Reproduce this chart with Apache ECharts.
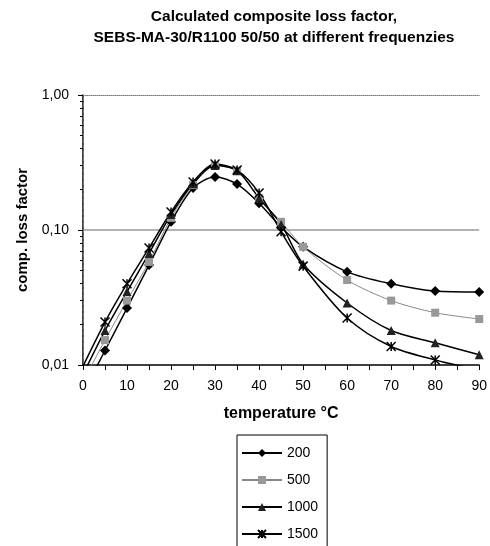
<!DOCTYPE html>
<html>
<head>
<meta charset="utf-8">
<script src="https://cdn.jsdelivr.net/npm/echarts@6/dist/echarts.min.js"></script>
<style>
  html, body { margin: 0; padding: 0; background: #fff; }
  #root { width: 490px; height: 546px; }
</style>
</head>
<body>
<div id="root"></div>
<script>
var temps = [0, 5, 10, 15, 20, 25, 30, 35, 40, 45, 50, 60, 70, 80, 90]
var f200 = [0.0062, 0.0128, 0.0264, 0.055, 0.115, 0.205, 0.247, 0.219, 0.158, 0.105, 0.075, 0.049, 0.040, 0.0353, 0.0347]
var f500 = [0.0075, 0.0153, 0.030, 0.058, 0.123, 0.215, 0.300, 0.275, 0.172, 0.115, 0.075, 0.0426, 0.030, 0.0244, 0.0219]
var f1000 = [0.0085, 0.018, 0.035, 0.067, 0.130, 0.220, 0.300, 0.275, 0.172, 0.110, 0.056, 0.0288, 0.018, 0.0146, 0.0119]
var f1500 = [0.0098, 0.0208, 0.040, 0.0736, 0.136, 0.227, 0.308, 0.278, 0.188, 0.097, 0.054, 0.0223, 0.0137, 0.0109, 0.0092]

var font = 'Liberation Sans, Arial, sans-serif'
var star = 'path://M0,0L10,10M10,0L0,10M5,0L5,10'

var pairs = function (ys) {
  return temps.map(function (t, i) { return [t, ys[i]] })
}

var line = function (name, ys, symbol, size, color, fill, width) {
  return {
    name: name,
    type: 'line',
    data: pairs(ys),
    smooth: 0.3,
    symbol: symbol,
    symbolSize: size,
    showAllSymbol: true,
    lineStyle: { color: color, width: width },
    itemStyle: { color: fill, borderColor: symbol === star ? '#000' : fill, borderWidth: symbol === star ? 1.5 : 0 },
    emphasis: { disabled: true }
  }
}

var chart = echarts.init(document.getElementById('root'))

var option = {
  animation: false,
  textStyle: { fontFamily: font },
  title: {
    text: 'Calculated composite loss factor,\nSEBS-MA-30/R1100 50/50 at different frequenzies',
    left: 274,
    top: 6,
    padding: 0,
    textAlign: 'center',
    textStyle: { fontFamily: font, fontSize: 15.5, fontWeight: 'bold', lineHeight: 21, color: '#000' }
  },
  grid: { left: 83, right: 10, top: 95, bottom: 181 },
  legend: {
    orient: 'vertical',
    left: 237,
    top: 435,
    height: 140,
    padding: [11, 9, 13, 4],
    itemGap: 13,
    itemWidth: 40,
    itemHeight: 10,
    borderColor: '#000',
    borderWidth: 1,
    textStyle: { fontFamily: font, fontSize: 14, color: '#000' },
    data: ['200', '500', '1000', '1500']
  },
  xAxis: [{
    type: 'value',
    min: 0,
    max: 90,
    interval: 10,
    name: 'temperature °C',
    nameLocation: 'middle',
    nameGap: 41,
    nameTextStyle: { fontFamily: font, fontSize: 16, fontWeight: 'bold', color: '#000' },
    axisLine: { show: true, onZero: false, lineStyle: { color: '#000', width: 1.5 } },
    axisTick: { show: true, length: 5, lineStyle: { color: '#000' } },
    minorTick: { show: true, splitNumber: 2, length: 5, lineStyle: { color: '#000' } },
    axisLabel: { fontFamily: font, fontSize: 14, color: '#000', margin: 14 },
    splitLine: { show: false }
  }, {
    type: 'value',
    position: 'top',
    min: 0,
    max: 90,
    axisLine: { show: true, onZero: false, lineStyle: { color: '#777', type: 'dotted', width: 1 } },
    axisTick: { show: false },
    axisLabel: { show: false },
    splitLine: { show: false }
  }],
  yAxis: [{
    type: 'log',
    logBase: 10,
    min: 0.01,
    max: 1,
    name: 'comp. loss factor',
    nameLocation: 'middle',
    nameRotate: 90,
    nameGap: 51,
    nameTextStyle: { fontFamily: font, fontSize: 15, fontWeight: 'bold', color: '#000' },
    axisLine: { show: true, lineStyle: { color: '#000', width: 1.5 } },
    axisTick: { show: true, length: 5, lineStyle: { color: '#000' } },
    minorTick: { show: true, splitNumber: 9, length: 3, lineStyle: { color: '#000' } },
    axisLabel: {
      fontFamily: font, fontSize: 14, color: '#000', margin: 14,
      formatter: function (v) { return v.toFixed(2).replace('.', ',') }
    },
    splitLine: { show: true, lineStyle: { color: ['transparent', '#999', 'transparent'], width: 1.5 } }
  }, {
    type: 'value',
    position: 'right',
    min: 0,
    max: 1,
    axisLine: { show: true, lineStyle: { color: '#777', type: 'dashed', width: 1 } },
    axisTick: { show: false },
    axisLabel: { show: false },
    splitLine: { show: false }
  }],
  series: [
    line('200', f200, 'diamond', 10, '#000', '#000', 1.5),
    line('500', f500, 'rect', 8, '#888', '#999', 1),
    line('1000', f1000, 'triangle', 9, '#000', '#222', 1.5),
    line('1500', f1500, star, 9, '#000', 'none', 1.5)
  ]
}

chart.setOption(option)
</script>
</body>
</html>
